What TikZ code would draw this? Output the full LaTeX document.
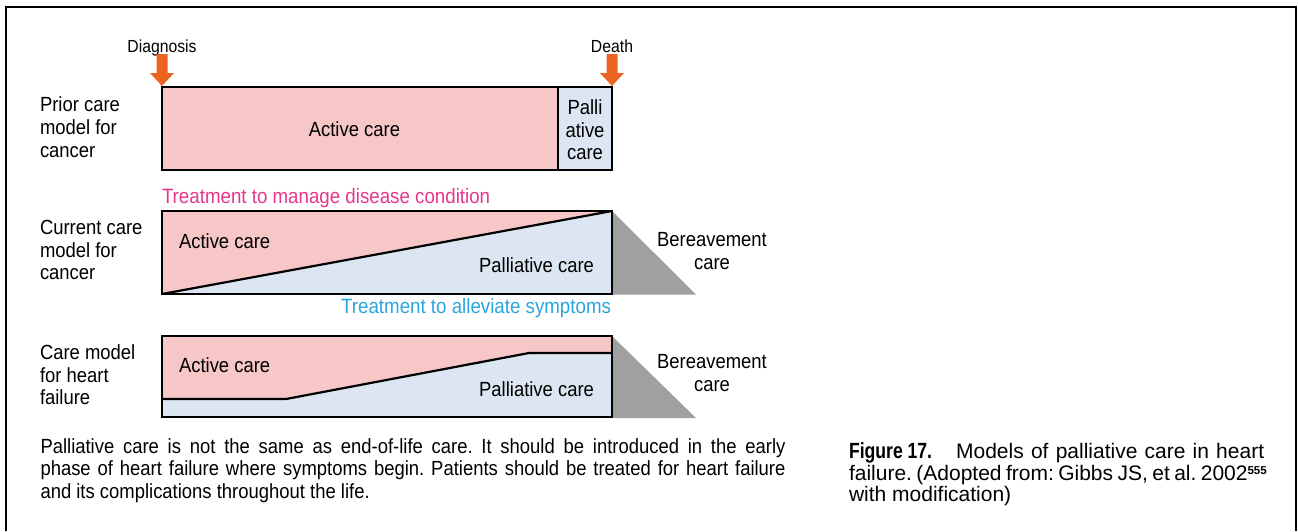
\documentclass[tikz,border=0pt]{standalone}
\usepackage{fontspec}
\usepackage{graphicx}
\setmainfont{Liberation Sans}[FakeStretch=0.9]
\newfontfamily\capfont{Liberation Sans}
\newfontfamily\figfont{Liberation Sans}[FakeStretch=0.8]
\frenchspacing

\definecolor{activepink}{HTML}{F7C6C7}
\definecolor{palliblue}{HTML}{DCE6F2}
\definecolor{bereavgrey}{HTML}{A0A0A0}
\definecolor{markorange}{HTML}{EB6420}
\definecolor{manageRed}{HTML}{E6358B}
\definecolor{symptomCyan}{HTML}{2AA5DD}

\tikzset{
  txt/.style={inner sep=0pt, outer sep=0pt, font=\fontsize{20.5}{22.7}\selectfont},
  colortxt/.style={inner sep=0pt, outer sep=0pt, font=\fontsize{20.8}{22.7}\selectfont},
  smalltxt/.style={inner sep=0pt, outer sep=0pt, font=\fontsize{17.5}{20}\selectfont},
  captxt/.style={inner sep=0pt, outer sep=0pt, font=\capfont\fontsize{21}{23}\selectfont},
  boxline/.style={draw=black, line width=2.2pt, line join=miter},
  frameline/.style={draw=black, line width=2.4pt},
  marker/.style={fill=markorange, draw=none},
}

\begin{document}
\begin{tikzpicture}[x=1pt, y=-1pt]
\useasboundingbox (0,0) rectangle (1298,531);

% outer frame (open at the bottom)
\draw[frameline] (6,531) -- (6,7) -- (1296,7) -- (1296,531);

% time markers
\node[smalltxt, anchor=base] (diag) at (162,52.5) {Diagnosis};
\node[smalltxt, anchor=base] (death) at (612,52.5) {Death};
\fill[marker] (156.5,54) -- (167.5,54) -- (167.5,73) -- (174,73) -- (162,86)
  -- (150,73) -- (156.5,73) -- cycle;
\fill[marker] (606.5,54) -- (617.5,54) -- (617.5,73) -- (624,73) -- (612,86)
  -- (600,73) -- (606.5,73) -- cycle;

% ---- prior care model for cancer
\coordinate (p1) at (162,87);
\coordinate (p2) at (612,170);
\fill[activepink] (162,87) rectangle (558,170);
\fill[palliblue] (558,87) rectangle (612,170);
\draw[boxline] (p1) rectangle (p2);
\draw[boxline] (558,87) -- (558,170);
\node[txt, anchor=base] (a1) at (354.4,136.5) {Active care};
\node[txt, anchor=base] (pa1) at (585,114) {Palli};
\node[txt, anchor=base] (pa2) at (585,137) {ative};
\node[txt, anchor=base] (pa3) at (585,159) {care};
\node[txt, anchor=base west] (l11) at (40,111.5) {Prior care};
\node[txt, anchor=base west] (l12) at (40,134.5) {model for};
\node[txt, anchor=base west] (l13) at (40,157) {cancer};

% ---- current care model for cancer
\node[colortxt, anchor=base west, text=manageRed] (manage) at (162,203) {Treatment to manage disease condition};
\fill[bereavgrey] (612,211) -- (696,294.5) -- (612,294.5) -- cycle;
\fill[activepink] (162,211) -- (612,211) -- (162,294) -- cycle;
\fill[palliblue] (162,294) -- (612,211) -- (612,294) -- cycle;
\draw[boxline] (162,211) rectangle (612,294);
\draw[boxline] (162,294) -- (612,211);
\node[txt, anchor=base west] (a2) at (179,248) {Active care};
\node[txt, anchor=base east] (pc2) at (594,272.6) {Palliative care};
\node[txt, anchor=base] (b21) at (712,246.5) {Bereavement};
\node[txt, anchor=base] (b22) at (712,269.2) {care};
\node[colortxt, anchor=base east, text=symptomCyan] (allev) at (611,313) {Treatment to alleviate symptoms};
\node[txt, anchor=base west] (l21) at (40,234.7) {Current care};
\node[txt, anchor=base west] (l22) at (40,257.4) {model for};
\node[txt, anchor=base west] (l23) at (40,279.5) {cancer};

% ---- care model for heart failure
\fill[bereavgrey] (612,336) -- (696,418) -- (612,418) -- cycle;
\fill[activepink] (162,336) rectangle (612,417);
\fill[palliblue] (162,399) -- (286,399) -- (529,353) -- (612,353) -- (612,417) -- (162,417) -- cycle;
\draw[boxline] (162,336) rectangle (612,417);
\draw[boxline] (162,399) -- (286,399) -- (529,353) -- (612,353);
\node[txt, anchor=base west] (a3) at (179,372) {Active care};
\node[txt, anchor=base east] (pc3) at (594,396.2) {Palliative care};
\node[txt, anchor=base] (b31) at (712,368.4) {Bereavement};
\node[txt, anchor=base] (b32) at (712,391) {care};
\node[txt, anchor=base west] (l31) at (40,359.6) {Care model};
\node[txt, anchor=base west] (l32) at (40,382) {for heart};
\node[txt, anchor=base west] (l33) at (40,404.7) {failure};

% ---- explanatory note
\node[txt, anchor=base west] (n1) at (40.5,453.8)
  {\makebox[745pt][s]{Palliative care is not the same as end-of-life care. It should be introduced in the early}};
\node[txt, anchor=base west] (n2) at (40.5,475.9)
  {\makebox[745pt][s]{phase of heart failure where symptoms begin. Patients should be treated for heart failure}};
\node[txt, anchor=base west] (n3) at (40.5,498.3) {and its complications throughout the life.};

% ---- caption
\node[captxt, anchor=base west] (c1) at (849,458.3)
  {{\figfont\fontsize{22}{23}\selectfont\bfseries Figure 17.}\hspace{24pt}\makebox[308pt][s]{Models of palliative care in heart}};
\node[captxt, anchor=base west] (c2) at (849,480.7)
  {\spaceskip=0.21em failure. (Adopted from: Gibbs JS, et al. 2002\raisebox{6.5pt}{\fontsize{11.5}{12}\selectfont\bfseries 555}};
\node[captxt, anchor=base west] (c3) at (849,501.7) {with modification)};
\end{tikzpicture}
\end{document}
